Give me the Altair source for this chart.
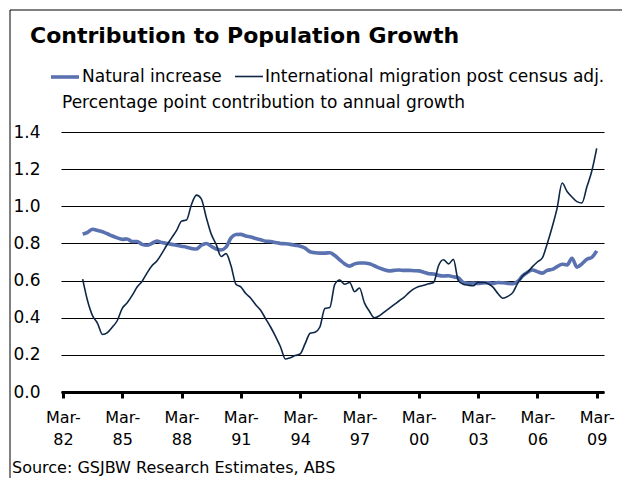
import altair as alt
import pandas as pd

series_names = ["Natural increase", "International migration post census adj."]
series_colors = ["#5A72B0", "#0E2747"]
series_widths = [3.6, 1.6]

# quarterly observations, Mar-83 .. Mar-09
quarters = pd.date_range("1983-03-01", "2009-03-01", freq="QS-MAR").strftime("%Y-%m-%d").tolist()

natural = [
    0.850, 0.860, 0.876, 0.870,   # 1983
    0.863, 0.852, 0.840, 0.830,   # 1984
    0.822, 0.824, 0.810, 0.810,   # 1985
    0.795, 0.790, 0.800, 0.813,   # 1986
    0.805, 0.800, 0.795, 0.790,   # 1987
    0.785, 0.780, 0.773, 0.770,   # 1988
    0.790, 0.800, 0.785, 0.770,   # 1989
    0.765, 0.780, 0.830, 0.848,   # 1990
    0.849, 0.840, 0.835, 0.826,   # 1991
    0.820, 0.812, 0.810, 0.805,   # 1992
    0.800, 0.798, 0.795, 0.790,   # 1993
    0.785, 0.775, 0.755, 0.750,   # 1994
    0.748, 0.748, 0.750, 0.735,   # 1995
    0.712, 0.690, 0.678, 0.690,   # 1996
    0.695, 0.695, 0.690, 0.680,   # 1997
    0.668, 0.658, 0.652, 0.655,   # 1998
    0.657, 0.655, 0.655, 0.653,   # 1999
    0.652, 0.645, 0.637, 0.635,   # 2000
    0.628, 0.625, 0.626, 0.620,   # 2001
    0.615, 0.590, 0.585, 0.587,   # 2002
    0.585, 0.587, 0.588, 0.585,   # 2003
    0.590, 0.588, 0.585, 0.583,   # 2004
    0.595, 0.625, 0.645, 0.657,   # 2005
    0.648, 0.640, 0.655, 0.660,   # 2006
    0.675, 0.688, 0.684, 0.720,   # 2007
    0.672, 0.690, 0.715, 0.725,   # 2008
    0.760,                        # 2009
]

migration = [
    0.608, 0.490, 0.410, 0.370,   # 1983
    0.310, 0.320, 0.350, 0.385,   # 1984
    0.450, 0.480, 0.520, 0.565,   # 1985
    0.595, 0.640, 0.680, 0.705,   # 1986
    0.745, 0.790, 0.830, 0.870,   # 1987
    0.920, 0.926, 1.010, 1.060,   # 1988
    1.040, 0.940, 0.850, 0.795,   # 1989
    0.730, 0.745, 0.680, 0.580,   # 1990
    0.566, 0.530, 0.505, 0.470,   # 1991
    0.440, 0.395, 0.350, 0.300,   # 1992
    0.245, 0.178, 0.185, 0.196,   # 1993
    0.205, 0.260, 0.316, 0.322,   # 1994
    0.350, 0.450, 0.455, 0.580,   # 1995
    0.603, 0.580, 0.590, 0.540,   # 1996
    0.560, 0.480, 0.435, 0.400,   # 1997
    0.410, 0.430, 0.450, 0.470,   # 1998
    0.490, 0.510, 0.535, 0.555,   # 1999
    0.568, 0.575, 0.583, 0.590,   # 2000
    0.680, 0.712, 0.690, 0.714,   # 2001
    0.600, 0.580, 0.575, 0.572,   # 2002
    0.590, 0.590, 0.583, 0.565,   # 2003
    0.530, 0.505, 0.515, 0.535,   # 2004
    0.585, 0.625, 0.645, 0.675,   # 2005
    0.700, 0.722, 0.800, 0.890,   # 2006
    0.990, 1.125, 1.080, 1.050,   # 2007
    1.025, 1.018, 1.105, 1.190,   # 2008
    1.312,                        # 2009
]

y_ticks = [0.0, 0.2, 0.4, 0.6, 0.8, 1.0, 1.2, 1.4]
x_tick_years = [1982, 1985, 1988, 1991, 1994, 1997, 2000, 2003, 2006, 2009]

title_text = "Contribution to Population Growth"
subtitle_text = "Percentage point contribution to annual growth"
source_text = "Source:  GSJBW Research Estimates, ABS"

FONT = "DejaVu Sans"

df = pd.DataFrame({
    "date": quarters * 2,
    "value": natural + migration,
    "series": [series_names[0]] * len(quarters) + [series_names[1]] * len(quarters),
})

legend_cfg = dict(
    title=None, orient="none", legendX=-12, legendY=-71, direction="horizontal",
    symbolType="stroke", symbolSize=784, labelFont=FONT, labelFontSize=17,
    labelColor="black", labelOffset=1, columnPadding=9, padding=0, labelLimit=0,
)

x_enc = alt.X(
    "date:T",
    scale=alt.Scale(
        type="utc",
        domain=[alt.DateTime(year=1982, month=1, date=25, utc=True),
                alt.DateTime(year=2009, month=7, date=14, utc=True)],
    ),
    axis=alt.Axis(
        title=None,
        values=[alt.DateTime(year=y, month=3, date=1, utc=True) for y in x_tick_years],
        labelExpr="['Mar-', utcFormat(datum.value, '%y')]",
        labelFont=FONT, labelFontSize=16, labelColor="black", labelLineHeight=22,
        labelPadding=11, labelAngle=0, labelFlush=False, labelOverlap=False,
        domainColor="black", domainWidth=3, tickColor="black", tickWidth=3, tickSize=6,
        grid=False,
    ),
)
y_enc = alt.Y(
    "value:Q",
    scale=alt.Scale(domain=[0, 1.4], nice=False),
    axis=alt.Axis(
        title=None, values=y_ticks, format=".1f",
        labelFont=FONT, labelFontSize=17, labelColor="black", labelPadding=21,
        domain=False, ticks=False, tickSize=0,
        grid=True, gridColor="black", gridWidth=1, gridOpacity=1,
    ),
)
color_enc = alt.Color("series:N", scale=alt.Scale(domain=series_names, range=series_colors),
                      legend=alt.Legend(**legend_cfg))
width_enc = alt.StrokeWidth("series:N", scale=alt.Scale(domain=series_names, range=series_widths),
                            legend=alt.Legend(**legend_cfg))

base = alt.Chart(df).encode(x=x_enc, y=y_enc, color=color_enc, strokeWidth=width_enc)
nat_line = base.transform_filter(alt.datum.series == series_names[0]).mark_line(interpolate="monotone")
mig_line = base.transform_filter(alt.datum.series == series_names[1]).mark_line(interpolate="monotone")

one = pd.DataFrame({"t": [0]})


def text_layer(txt, x, y, size=17, weight="normal"):
    return alt.Chart(pd.DataFrame({"label": [txt]})).mark_text(
        align="left", baseline="alphabetic", font=FONT, fontSize=size,
        fontWeight=weight, color="black"
    ).encode(text="label:N", x=alt.value(x), y=alt.value(y))


title = text_layer(title_text, -31, -89, size=22, weight="bold")
subtitle = text_layer(subtitle_text, 1, -24)
source = text_layer(source_text, -49, 341, size=16)

border_left = alt.Chart(one).mark_rule(color="black", strokeWidth=1).encode(
    x=alt.value(-51), y=alt.value(-122), y2=alt.value(420))
border_top = alt.Chart(one).mark_rule(color="black", strokeWidth=1).encode(
    x=alt.value(-51), x2=alt.value(620), y=alt.value(-122))

chart = alt.layer(
    border_left, border_top, nat_line, mig_line, title, subtitle, source
).properties(
    width=543, height=260,
    padding={"left": 53, "top": 124, "right": 18, "bottom": 86},
    autosize=alt.AutoSizeParams(type="none"),
    background="white",
).configure_view(stroke=None)

chart.save("out.html", embed_options={"renderer": "svg", "actions": False})
